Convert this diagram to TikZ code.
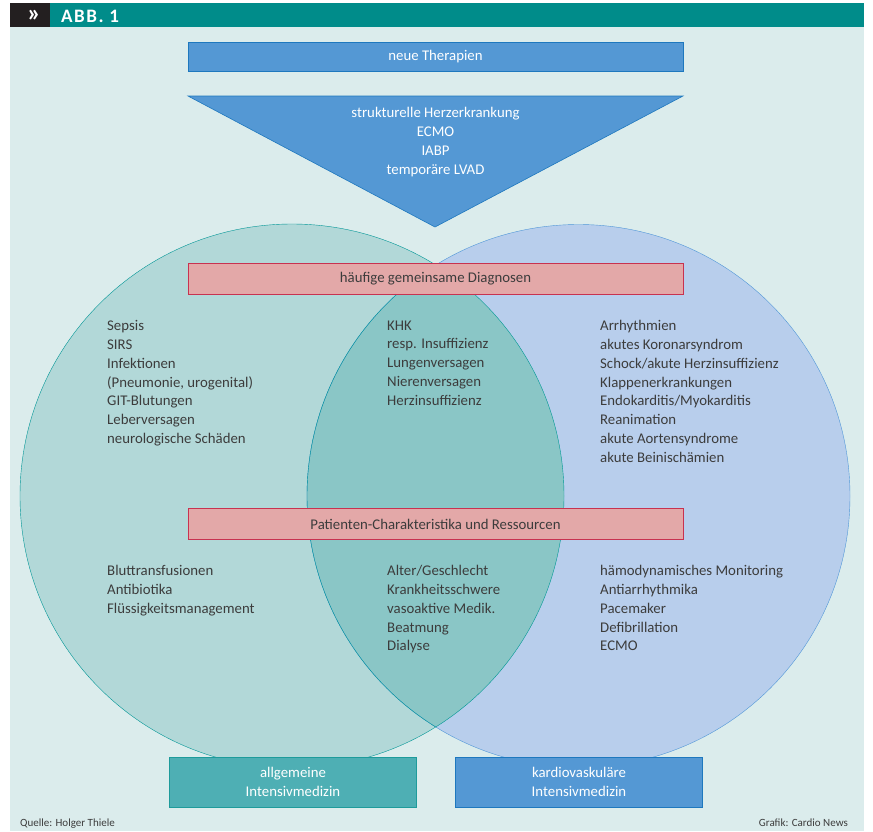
\documentclass[tikz,border=0pt]{standalone}
\usepackage{fontspec}
\setmainfont{Carlito}
\usepackage{xcolor}
\usepackage{tikz}
\usetikzlibrary{positioning}

\definecolor{palebg}{RGB}{219,236,236}
\definecolor{headteal}{RGB}{0,140,138}
\definecolor{headdark}{RGB}{35,31,32}
\definecolor{bluefill}{RGB}{84,152,212}
\definecolor{blueline}{RGB}{30,120,190}
\definecolor{pinkfill}{RGB}{227,168,168}
\definecolor{pinkline}{RGB}{200,50,80}
\definecolor{leftfill}{RGB}{178,216,216}
\definecolor{leftline}{RGB}{0,150,150}
\definecolor{rightfill}{RGB}{184,206,236}
\definecolor{rightline}{RGB}{80,150,215}
\definecolor{lensfill}{RGB}{138,198,198}
\definecolor{tealbox}{RGB}{78,175,180}
\definecolor{tealline}{RGB}{30,155,155}
\definecolor{txtgrey}{RGB}{60,60,60}

\begin{document}
\begin{tikzpicture}[
    x=1pt, y=-1pt,
    every node/.style={font=\fontsize{14.8}{18.8}\selectfont, text=txtgrey},
    bluebox/.style={draw=blueline, fill=bluefill, text=white, minimum width=495pt, minimum height=29pt, inner sep=0pt},
    pinkbox/.style={draw=pinkline, fill=pinkfill, minimum width=495pt, minimum height=31pt, inner sep=0pt},
    listtext/.style={anchor=north west, align=left, inner sep=0pt, execute at begin node=\strut},
    footbox/.style={minimum width=247pt, minimum height=50pt, text=white, align=center, inner sep=0pt},
    source/.style={font=\fontsize{11}{13}\selectfont, inner sep=0pt}
]
    \useasboundingbox (0,0) rectangle (873,831);

    % Background and header
    \fill[palebg] (10,27) rectangle (864,831);
    \fill[headdark] (10,3) rectangle (50,27);
    \fill[headteal] (50,3) rectangle (864,27);
    \node[text=white, font=\fontsize{25}{25}\selectfont\bfseries, inner sep=0pt] (chev) at (34,15.5) {»};
    \node[text=white, font=\fontsize{19}{20}\selectfont\bfseries\addfontfeatures{LetterSpace=8}, anchor=base west, inner sep=0pt] (abb) at (61,22.5) {ABB. 1};

    % Circles
    \fill[rightfill] (578.5,496) circle[radius=271.5];
    \fill[leftfill] (292,496) circle[radius=272];
    \begin{scope}
        \clip (292,496) circle[radius=272];
        \fill[lensfill] (578.5,496) circle[radius=271.5];
    \end{scope}
    \draw[rightline] (578.5,496) circle[radius=271.5];
    \draw[leftline] (292,496) circle[radius=272];
    \begin{scope}
        \clip (292,496) circle[radius=272];
        \draw[leftline] (578.5,496) circle[radius=271.5];
    \end{scope}

    % Top
    \node[bluebox] (therapien) at (435.5,56.5) {neue Therapien};
    \fill[bluefill, draw=blueline, line width=0.6pt] (188,96) -- (683,96) -- (435,227) -- cycle;
    \node[text=white, anchor=north, align=center, inner sep=0pt, execute at begin node=\strut] (devices) at (435.5,107.3)
        {strukturelle Herzerkrankung\\ECMO\\IABP\\temporäre LVAD};

    % Diagnoses
    \node[pinkbox] (diagnosen) at (435.5,278.5) {häufige gemeinsame Diagnosen};
    \node[listtext] (diagleft) at (107,320.3) {Sepsis\\SIRS\\Infektionen\\(Pneumonie, urogenital)\\GIT-Blutungen\\Leberversagen\\neurologische Schäden};
    \node[listtext] (diagmid) at (387,320.3) {KHK\\resp. Insuffizienz\\Lungenversagen\\Nierenversagen\\Herzinsuffizienz};
    \node[listtext] (diagright) at (600,320.3) {Arrhythmien\\akutes Koronarsyndrom\\Schock/akute Herzinsuffizienz\\Klappenerkrankungen\\Endokarditis/Myokarditis\\Reanimation\\akute Aortensyndrome\\akute Beinischämien};

    % Resources
    \node[pinkbox] (ressourcen) at (435.5,524) {Patienten-Charakteristika und Ressourcen};
    \node[listtext] (resleft) at (107,565.3) {Bluttransfusionen\\Antibiotika\\Flüssigkeitsmanagement};
    \node[listtext] (resmid) at (387,565.3) {Alter/Geschlecht\\Krankheitsschwere\\vasoaktive Medik.\\Beatmung\\Dialyse};
    \node[listtext] (resright) at (600,565.3) {hämodynamisches Monitoring\\Antiarrhythmika\\Pacemaker\\Defibrillation\\ECMO};

    % Bottom labels
    \node[footbox, draw=tealline, fill=tealbox] (allgemein) at (293,782) {allgemeine\\Intensivmedizin};
    \node[footbox, draw=blueline, fill=bluefill] (kardio) at (579,782) {kardiovaskuläre\\Intensivmedizin};

    % Sources
    \node[source, anchor=base west] (quelle) at (20,826) {Quelle: Holger Thiele};
    \node[source, anchor=base east] (grafik) at (848,826) {Grafik: Cardio News};
\end{tikzpicture}
\end{document}
